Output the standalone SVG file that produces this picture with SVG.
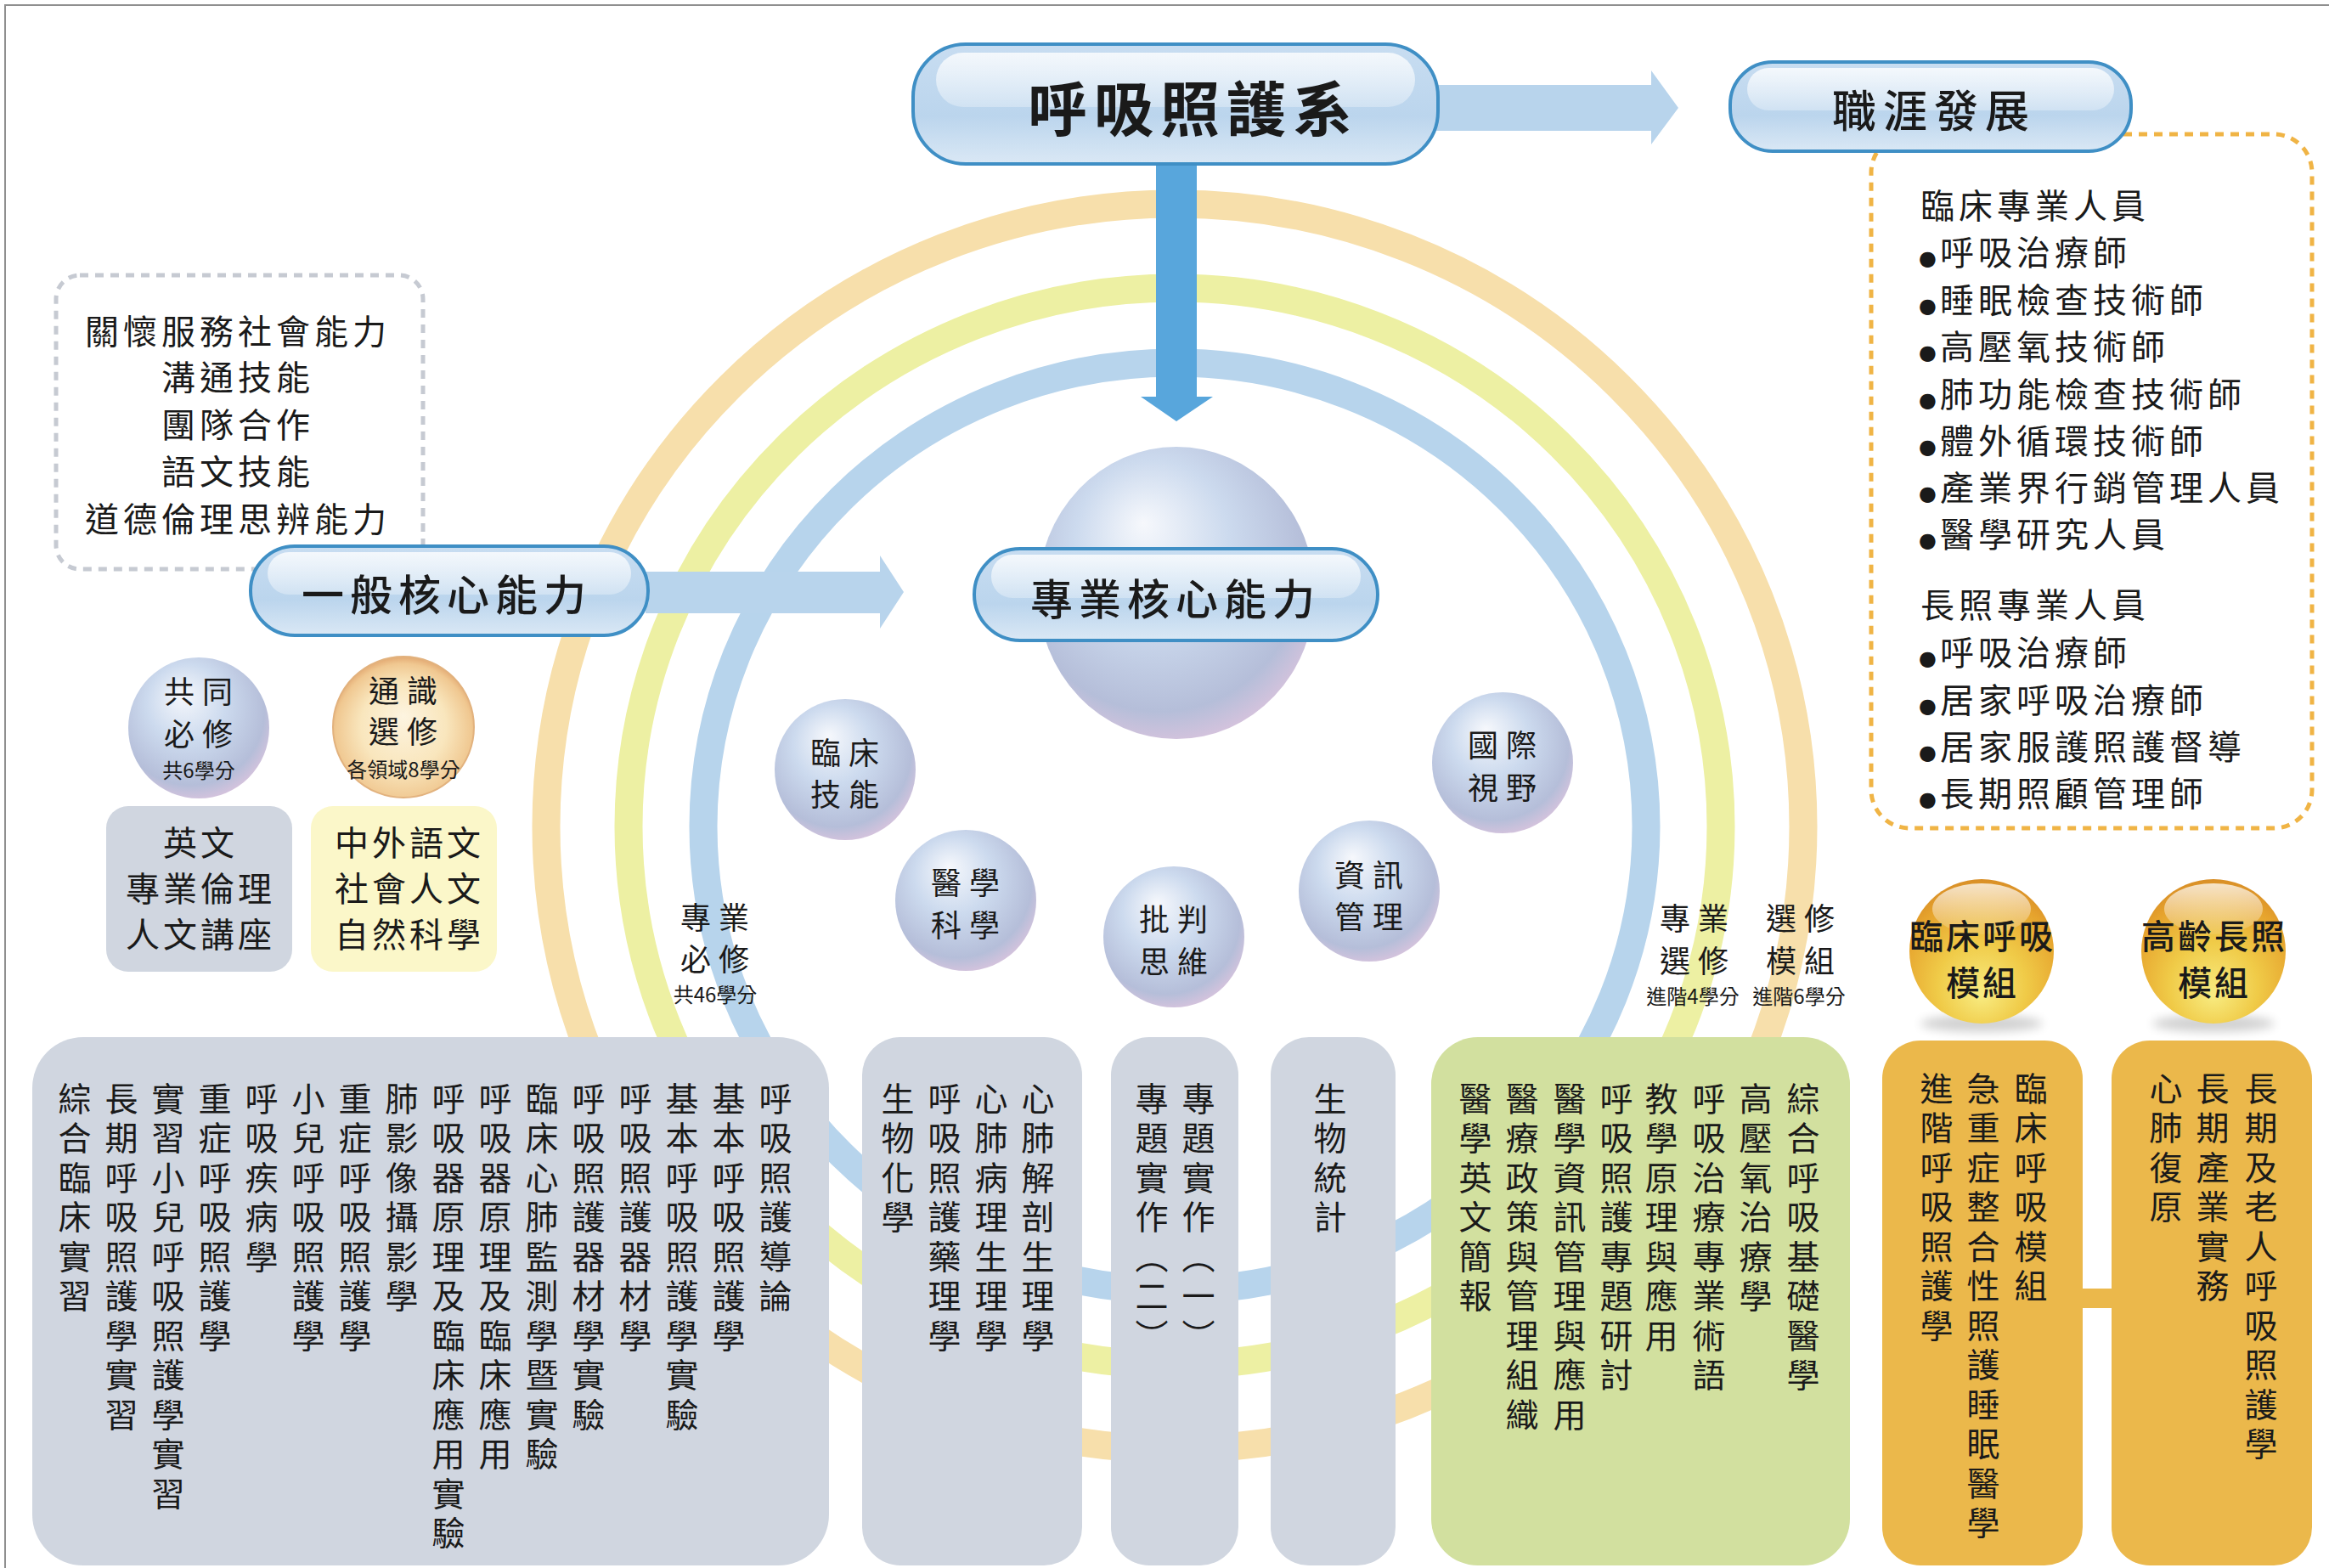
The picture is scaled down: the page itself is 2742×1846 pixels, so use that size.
<svg xmlns="http://www.w3.org/2000/svg" width="2742" height="1846" viewBox="0 0 2742 1846">
<defs>
<style>
.t{font-family:"Noto Sans CJK TC","Noto Sans CJK JP",sans-serif;fill:#1a1a1a;text-anchor:middle;dominant-baseline:central}
.t tspan{dominant-baseline:central}
.b40{font-size:40px;letter-spacing:4px}
.s36{font-size:36px;letter-spacing:9px}
.sm{font-size:24px;letter-spacing:0px}
.g40{font-size:40px;letter-spacing:3px;font-weight:500}
.v{font-family:"Noto Sans CJK TC","Noto Sans CJK JP",sans-serif;fill:#1a1a1a;font-size:39px;writing-mode:vertical-rl;letter-spacing:7.5px}
.lst{font-family:"Noto Sans CJK TC","Noto Sans CJK JP",sans-serif;fill:#1a1a1a;font-size:40px;letter-spacing:5px}
.dot{font-family:"DejaVu Sans",sans-serif;font-size:24px;letter-spacing:4px}
.pill{stroke:#3f8fc5;stroke-width:4;fill:url(#pill)}
.gl{fill:url(#gloss)}
.ring{fill:none;stroke-width:33}
.gray{fill:#d0d6e0}
.green{fill:#d2e09f}
.gold{fill:#ebb84b}
.sph{fill:url(#sph)}
.arr{fill:#b8d4ec}
.shadow{fill:#000;opacity:0.18;filter:url(#blur)}
</style>
<linearGradient id="pill" x1="0" y1="0" x2="0" y2="1">
<stop offset="0" stop-color="#c8ddf1"/>
<stop offset="0.6" stop-color="#bbd5ed"/>
<stop offset="1" stop-color="#dae8f5"/>
</linearGradient>
<linearGradient id="gloss" x1="0" y1="0" x2="0" y2="1">
<stop offset="0" stop-color="#ffffff" stop-opacity="0.8"/>
<stop offset="1" stop-color="#ffffff" stop-opacity="0.3"/>
</linearGradient>
<radialGradient id="sph" cx="0.45" cy="0.4" r="0.62" fx="0.38" fy="0.26">
<stop offset="0" stop-color="#f6f8fc"/>
<stop offset="0.45" stop-color="#ccdaee"/>
<stop offset="0.85" stop-color="#b5bed9"/>
<stop offset="1" stop-color="#d6c3dd"/>
</radialGradient>
<radialGradient id="sphO" cx="0.5" cy="0.55" r="0.55" fx="0.5" fy="0.42">
<stop offset="0" stop-color="#fdf4e0"/>
<stop offset="0.55" stop-color="#f9e6bd"/>
<stop offset="0.88" stop-color="#f0c891"/>
<stop offset="1" stop-color="#e3a972"/>
</radialGradient>
<radialGradient id="gold" cx="0.5" cy="0.68" r="0.68" fx="0.5" fy="0.8">
<stop offset="0" stop-color="#f8ec82"/>
<stop offset="0.45" stop-color="#f0cb48"/>
<stop offset="0.85" stop-color="#e6a32d"/>
<stop offset="1" stop-color="#d98f27"/>
</radialGradient>
<linearGradient id="ghl" x1="0" y1="0" x2="0" y2="1">
<stop offset="0" stop-color="#ffffff" stop-opacity="0.75"/>
<stop offset="1" stop-color="#ffffff" stop-opacity="0.1"/>
</linearGradient>
<filter id="blur" x="-50%" y="-100%" width="200%" height="300%"><feGaussianBlur stdDeviation="6"/></filter>
</defs>

<rect x="6" y="6" width="2800" height="1900" fill="#ffffff" stroke="#8f8f8f" stroke-width="2"/>

<g id="rings">
<ellipse class="ring" cx="1383" cy="973" rx="740" ry="733" stroke="#f7dfab"/>
<ellipse class="ring" cx="1383" cy="973" rx="643" ry="634" stroke="#edf0a3"/>
<ellipse class="ring" cx="1383" cy="973" rx="555" ry="546" stroke="#b7d4ec"/>
</g>

<g id="node-general-list">
<rect x="66" y="324" width="432" height="346" rx="28" fill="none" stroke="#c6cad2" stroke-width="5" stroke-dasharray="10 8"/>
<text class="t b40" style="letter-spacing:5px"><tspan x="280" y="388">關懷服務社會能力</tspan><tspan x="280" y="442">溝通技能</tspan><tspan x="280" y="498">團隊合作</tspan><tspan x="280" y="553">語文技能</tspan><tspan x="280" y="609">道德倫理思辨能力</tspan></text>
</g>

<g id="node-career-list">
<rect x="2203" y="158" width="519" height="817" rx="45" fill="none" stroke="#f0b445" stroke-width="5" stroke-dasharray="10 8"/>
<text class="lst"><tspan x="2261" y="257">臨床專業人員</tspan><tspan class="dot" x="2259" y="312">●</tspan><tspan>呼吸治療師</tspan><tspan class="dot" x="2259" y="368">●</tspan><tspan>睡眠檢查技術師</tspan><tspan class="dot" x="2259" y="423">●</tspan><tspan>高壓氧技術師</tspan><tspan class="dot" x="2259" y="479">●</tspan><tspan>肺功能檢查技術師</tspan><tspan class="dot" x="2259" y="534">●</tspan><tspan>體外循環技術師</tspan><tspan class="dot" x="2259" y="589">●</tspan><tspan>產業界行銷管理人員</tspan><tspan class="dot" x="2259" y="644">●</tspan><tspan>醫學研究人員</tspan><tspan x="2261" y="727">長照專業人員</tspan><tspan class="dot" x="2259" y="783">●</tspan><tspan>呼吸治療師</tspan><tspan class="dot" x="2259" y="839">●</tspan><tspan>居家呼吸治療師</tspan><tspan class="dot" x="2259" y="894">●</tspan><tspan>居家服護照護督導</tspan><tspan class="dot" x="2259" y="949">●</tspan><tspan>長期照顧管理師</tspan></text>
</g>

<g id="connectors">
<polygon class="arr" points="1690,100 1944,100 1944,83 1976,127 1944,170 1944,154 1690,154"/>
<polygon fill="#58a6dc" points="1361,188 1409,188 1409,467 1428,467 1385,496 1343,467 1361,467"/>
<polygon class="arr" points="760,673 1036,673 1036,654 1064,697 1036,740 1036,722 760,722"/>
<rect class="gold" x="2450" y="1517" width="38" height="23"/>
</g>

<g id="node-title">
<rect class="pill" x="1075" y="52" width="618" height="141" rx="62"/>
<rect class="gl" x="1102" y="62" width="564" height="64" rx="32"/>
<text class="t" x="1405" y="124" style="font-size:70px;font-weight:700;letter-spacing:8px">呼吸照護系</text>
</g>

<g id="node-career">
<rect class="pill" x="2037" y="73" width="472" height="105" rx="50"/>
<rect class="gl" x="2057" y="80" width="432" height="50" rx="25"/>
<text class="t" x="2277" y="127" style="font-size:52px;font-weight:500;letter-spacing:8px">職涯發展</text>
</g>

<g id="node-general">
<rect class="pill" x="295" y="643" width="468" height="105" rx="52"/>
<rect class="gl" x="315" y="650" width="428" height="50" rx="25"/>
<text class="t" x="526" y="697" style="font-size:50px;font-weight:500;letter-spacing:7px">一般核心能力</text>
</g>

<g id="node-professional">
<ellipse class="sph" cx="1385" cy="698" rx="163" ry="172"/>
<rect class="pill" x="1147" y="646" width="475" height="108" rx="54"/>
<rect class="gl" x="1167" y="653" width="435" height="51" rx="25"/>
<text class="t" x="1384" y="702" style="font-size:50px;font-weight:500;letter-spacing:7px">專業核心能力</text>
</g>

<g id="node-common">
<circle class="sph" cx="234" cy="857" r="83"/>
<text class="t s36"><tspan x="238" y="812">共同</tspan><tspan x="238" y="862">必修</tspan><tspan class="sm" x="234" y="905">共6學分</tspan></text>
</g>

<g id="node-ge">
<circle cx="475" cy="856" r="83" fill="url(#sphO)" stroke="#e2b27e" stroke-width="2"/>
<text class="t s36"><tspan x="479" y="811">通識</tspan><tspan x="479" y="859">選修</tspan><tspan class="sm" x="475" y="904">各領域8學分</tspan></text>
</g>

<g id="node-clinical-skill">
<circle class="sph" cx="995" cy="906" r="83"/>
<text class="t s36"><tspan x="999" y="884">臨床</tspan><tspan x="999" y="933">技能</tspan></text>
</g>

<g id="node-med-science">
<circle class="sph" cx="1137" cy="1060" r="83"/>
<text class="t s36"><tspan x="1141" y="1037">醫學</tspan><tspan x="1141" y="1087">科學</tspan></text>
</g>

<g id="node-critical">
<circle class="sph" cx="1382" cy="1103" r="83"/>
<text class="t s36"><tspan x="1386" y="1080">批判</tspan><tspan x="1386" y="1130">思維</tspan></text>
</g>

<g id="node-info">
<circle class="sph" cx="1612" cy="1049" r="83"/>
<text class="t s36"><tspan x="1616" y="1028">資訊</tspan><tspan x="1616" y="1077">管理</tspan></text>
</g>

<g id="node-global">
<circle class="sph" cx="1769" cy="898" r="83"/>
<text class="t s36"><tspan x="1773" y="875">國際</tspan><tspan x="1773" y="925">視野</tspan></text>
</g>

<g id="node-required-label">
<text class="t s36"><tspan x="846" y="1078">專業</tspan><tspan x="846" y="1127">必修</tspan><tspan class="sm" x="842" y="1169">共46學分</tspan></text>
</g>

<g id="node-elective-label">
<text class="t s36"><tspan x="1999" y="1079">專業</tspan><tspan x="1999" y="1129">選修</tspan><tspan class="sm" x="1993" y="1171">進階4學分</tspan></text>
<text class="t s36"><tspan x="2124" y="1079">選修</tspan><tspan x="2124" y="1129">模組</tspan><tspan class="sm" x="2118" y="1171">進階6學分</tspan></text>
</g>

<g id="node-clinical-module">
<ellipse class="shadow" cx="2333" cy="1205" rx="72" ry="10"/>
<circle cx="2333" cy="1120" r="85" fill="url(#gold)"/>
<ellipse cx="2333" cy="1070" rx="58" ry="30" fill="url(#ghl)"/>
<text class="t g40"><tspan x="2334" y="1100">臨床呼吸</tspan><tspan x="2334" y="1155">模組</tspan></text>
</g>

<g id="node-ltc-module">
<ellipse class="shadow" cx="2606" cy="1205" rx="72" ry="10"/>
<circle cx="2606" cy="1120" r="85" fill="url(#gold)"/>
<ellipse cx="2606" cy="1070" rx="58" ry="30" fill="url(#ghl)"/>
<text class="t g40"><tspan x="2607" y="1100">高齡長照</tspan><tspan x="2607" y="1155">模組</tspan></text>
</g>

<g id="node-common-courses">
<rect class="gray" x="125" y="949" width="219" height="195" rx="26"/>
<text class="t b40"><tspan x="236" y="990">英文</tspan><tspan x="236" y="1044">專業倫理</tspan><tspan x="236" y="1098">人文講座</tspan></text>
</g>

<g id="node-ge-courses">
<rect x="366" y="949" width="219" height="195" rx="26" fill="#fbf7c9"/>
<text class="t b40"><tspan x="482" y="990">中外語文</tspan><tspan x="482" y="1044">社會人文</tspan><tspan x="482" y="1098">自然科學</tspan></text>
</g>

<g id="node-required-courses">
<rect class="gray" x="38" y="1221" width="938" height="622" rx="60"/>
<text class="v" x="913" y="1273.5">呼吸照護導論</text>
<text class="v" x="858" y="1273.5">基本呼吸照護學</text>
<text class="v" x="803" y="1273.5">基本呼吸照護學實驗</text>
<text class="v" x="748" y="1273.5">呼吸照護器材學</text>
<text class="v" x="693" y="1273.5">呼吸照護器材學實驗</text>
<text class="v" x="638" y="1273.5">臨床心肺監測學暨實驗</text>
<text class="v" x="583" y="1273.5">呼吸器原理及臨床應用</text>
<text class="v" x="528" y="1273.5">呼吸器原理及臨床應用實驗</text>
<text class="v" x="473" y="1273.5">肺影像攝影學</text>
<text class="v" x="418" y="1273.5">重症呼吸照護學</text>
<text class="v" x="363" y="1273.5">小兒呼吸照護學</text>
<text class="v" x="308" y="1273.5">呼吸疾病學</text>
<text class="v" x="253" y="1273.5">重症呼吸照護學</text>
<text class="v" x="198" y="1273.5">實習小兒呼吸照護學實習</text>
<text class="v" x="143" y="1273.5">長期呼吸照護學實習</text>
<text class="v" x="88" y="1273.5">綜合臨床實習</text>
</g>

<g id="node-basic-courses">
<rect class="gray" x="1015" y="1221" width="259" height="622" rx="45"/>
<text class="v" x="1222" y="1273.5">心肺解剖生理學</text>
<text class="v" x="1167" y="1273.5">心肺病理生理學</text>
<text class="v" x="1112" y="1273.5">呼吸照護藥理學</text>
<text class="v" x="1057" y="1273.5">生物化學</text>
</g>

<g id="node-project-courses">
<rect class="gray" x="1308" y="1221" width="150" height="622" rx="45"/>
<text class="v" x="1411" y="1273.5">專題實作︵一︶</text>
<text class="v" x="1356" y="1273.5">專題實作︵二︶</text>
</g>

<g id="node-stat-course">
<rect class="gray" x="1496" y="1221" width="147" height="622" rx="45"/>
<text class="v" x="1566" y="1273.5">生物統計</text>
</g>

<g id="node-elective-courses">
<rect class="green" x="1685" y="1221" width="493" height="622" rx="55"/>
<text class="v" x="2123" y="1273.5">綜合呼吸基礎醫學</text>
<text class="v" x="2067" y="1273.5">高壓氧治療學</text>
<text class="v" x="2012" y="1273.5">呼吸治療專業術語</text>
<text class="v" x="1956" y="1273.5">教學原理與應用</text>
<text class="v" x="1903" y="1273.5">呼吸照護專題研討</text>
<text class="v" x="1848" y="1273.5">醫學資訊管理與應用</text>
<text class="v" x="1792" y="1273.5">醫療政策與管理組織</text>
<text class="v" x="1737" y="1273.5">醫學英文簡報</text>
</g>

<g id="node-clinical-module-courses">
<rect class="gold" x="2216" y="1225" width="236" height="618" rx="45"/>
<text class="v" x="2391" y="1261.5">臨床呼吸模組</text>
<text class="v" x="2335" y="1261.5">急重症整合性照護睡眠醫學</text>
<text class="v" x="2280" y="1261.5">進階呼吸照護學</text>
</g>

<g id="node-ltc-module-courses">
<rect class="gold" x="2486" y="1225" width="236" height="618" rx="45"/>
<text class="v" x="2662" y="1261.5">長期及老人呼吸照護學</text>
<text class="v" x="2605" y="1261.5">長期產業實務</text>
<text class="v" x="2550" y="1261.5">心肺復原</text>
</g>
</svg>
